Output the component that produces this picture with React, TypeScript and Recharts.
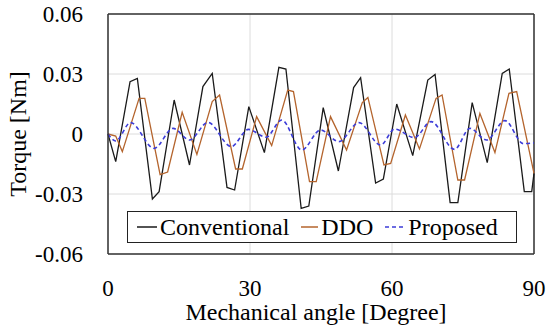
import React from 'react';
import { LineChart, Line, XAxis, YAxis, CartesianGrid, ReferenceLine } from 'recharts';

// Conventional
const convAngle = [0, 1.63, 4.66, 6.2, 9.38, 10.8, 13.98, 17.22, 20.05, 22.02, 25.14, 26.75, 29.75, 33.04, 36.1, 37.59, 40.81, 42.42, 45.47, 48.67, 51.89, 53.37, 56.54, 58.17, 61.0, 64.38, 67.56, 69.1, 72.28, 73.91, 76.94, 80.12, 83.29, 84.77, 87.95, 89.52, 90];
const convTorque = [0, -0.0138, 0.0262, 0.0278, -0.0325, -0.0288, 0.017, -0.0155, 0.0237, 0.0303, -0.0267, -0.028, 0.0137, -0.0093, 0.0333, 0.0325, -0.0372, -0.036, 0.0132, -0.0185, 0.0232, 0.0282, -0.0245, -0.0225, 0.015, -0.0108, 0.027, 0.0298, -0.0343, -0.0343, 0.0157, -0.0143, 0.0303, 0.0325, -0.0288, -0.0288, -0.0197];

// DDO
const ddoAngle = [0, 1.63, 3.03, 6.57, 7.77, 11.01, 12.6, 15.67, 18.78, 22.02, 23.57, 26.96, 28.38, 31.4, 34.58, 37.97, 39.18, 42.57, 43.99, 47.01, 50.4, 53.73, 54.91, 58.3, 59.72, 62.83, 65.8, 69.31, 70.58, 73.91, 75.33, 78.57, 81.75, 84.71, 86.34, 90];
const ddoTorque = [0, -0.001, -0.0088, 0.0178, 0.0178, -0.0203, -0.019, 0.0108, -0.0102, 0.0162, 0.0195, -0.0175, -0.0175, 0.0087, -0.0058, 0.022, 0.0212, -0.0238, -0.0238, 0.0087, -0.008, 0.0157, 0.0183, -0.0155, -0.0147, 0.0095, -0.0075, 0.0178, 0.0195, -0.023, -0.023, 0.0103, -0.0093, 0.0203, 0.0212, -0.0197];

// Proposed
const propAngle = [0, 1.63, 4.76, 9.74, 13.77, 17.22, 21.11, 26.05, 29.65, 33.4, 36.7, 40.93, 44.9, 48.77, 53.01, 57.6, 60.57, 64.74, 68.25, 73.2, 76.45, 79.99, 83.86, 87.74, 90];
const propTorque = [0, -0.0035, 0.0057, -0.0072, 0.0028, -0.003, 0.0058, -0.0063, 0.0023, -0.0016, 0.007, -0.008, 0.002, -0.0038, 0.0057, -0.0055, 0.0025, -0.0018, 0.0062, -0.0077, 0.0028, -0.003, 0.0067, -0.0048, -0.0045];

const xTicks = [0, 30, 60, 90];
const yTicks = [-0.06, -0.03, 0, 0.03, 0.06];

const zip = (xs: number[], ys: number[]) => xs.map((x, i) => ({ x, y: ys[i] }));

const convData = zip(convAngle, convTorque);
const ddoData = zip(ddoAngle, ddoTorque);
const propData = zip(propAngle, propTorque);

const FONT = '"Liberation Serif", "Times New Roman", serif';

const legendItems = [
  { name: 'Conventional', color: '#1a1a1a', dash: undefined, width: 20 },
  { name: 'DDO', color: '#b4642d', dash: undefined, width: 17 },
  { name: 'Proposed', color: '#3c3cd8', dash: '4 3', width: 20 },
];

export default function App() {
  return (
    <div style={{ position: 'absolute', left: 0, top: 0, width: 550, height: 330, background: '#fff', fontFamily: FONT }}>
      <LineChart width={550} height={330} margin={{ top: 14, right: 16, left: 0, bottom: 0 }}>
        <CartesianGrid stroke="#dcdcdc" strokeWidth={1} />
        <XAxis
          type="number"
          dataKey="x"
          domain={[0, 90]}
          ticks={xTicks}
          height={76}
          axisLine={{ stroke: '#333', strokeWidth: 1.5 }}
          tickLine={false}
          tickMargin={20}
          tick={{ fill: '#000', fontSize: 23, fontFamily: FONT }}
          label={{ value: 'Mechanical angle [Degree]', position: 'insideBottom', offset: 10, dx: -5, style: { fill: '#000', fontSize: 24, fontFamily: FONT } }}
        />
        <YAxis
          type="number"
          domain={[-0.06, 0.06]}
          ticks={yTicks}
          width={108}
          axisLine={{ stroke: '#333', strokeWidth: 1.5 }}
          tickLine={false}
          tickMargin={19}
          tickFormatter={(v: number) => (v === 0 ? '0' : v.toFixed(2))}
          tick={{ fill: '#000', fontSize: 23, fontFamily: FONT }}
          label={{ value: 'Torque [Nm]', angle: -90, position: 'insideLeft', offset: 17, style: { textAnchor: 'middle', fill: '#000', fontSize: 24, fontFamily: FONT } }}
        />
        <ReferenceLine x={90} stroke="#333" strokeWidth={1.5} />
        <ReferenceLine y={0.06} stroke="#333" strokeWidth={1.5} />
        <Line data={convData} dataKey="y" type="linear" stroke="#1a1a1a" strokeWidth={1.3} dot={false} isAnimationActive={false} />
        <Line data={ddoData} dataKey="y" type="linear" stroke="#b4642d" strokeWidth={1.3} dot={false} isAnimationActive={false} />
        <Line data={propData} dataKey="y" type="monotone" stroke="#3c3cd8" strokeWidth={1.6} strokeDasharray="4 3" dot={false} isAnimationActive={false} />
      </LineChart>
      <div
        style={{
          position: 'absolute',
          left: 127,
          top: 211,
          width: 390,
          height: 32,
          boxSizing: 'border-box',
          border: '1.5px solid #222',
          background: '#fff',
          display: 'flex',
          alignItems: 'center',
          paddingLeft: 9,
          fontSize: 24,
          color: '#000',
          whiteSpace: 'nowrap',
        }}
      >
        {legendItems.map((it, i) => (
          <span key={it.name} style={{ display: 'flex', alignItems: 'center', marginRight: i < legendItems.length - 1 ? 12 : 0 }}>
            <svg width={it.width} height={4} style={{ marginRight: 3 }}>
              <line x1={0} y1={2} x2={it.width} y2={2} stroke={it.color} strokeWidth={1.5} strokeDasharray={it.dash} />
            </svg>
            <span>{it.name}</span>
          </span>
        ))}
      </div>
    </div>
  );
}
